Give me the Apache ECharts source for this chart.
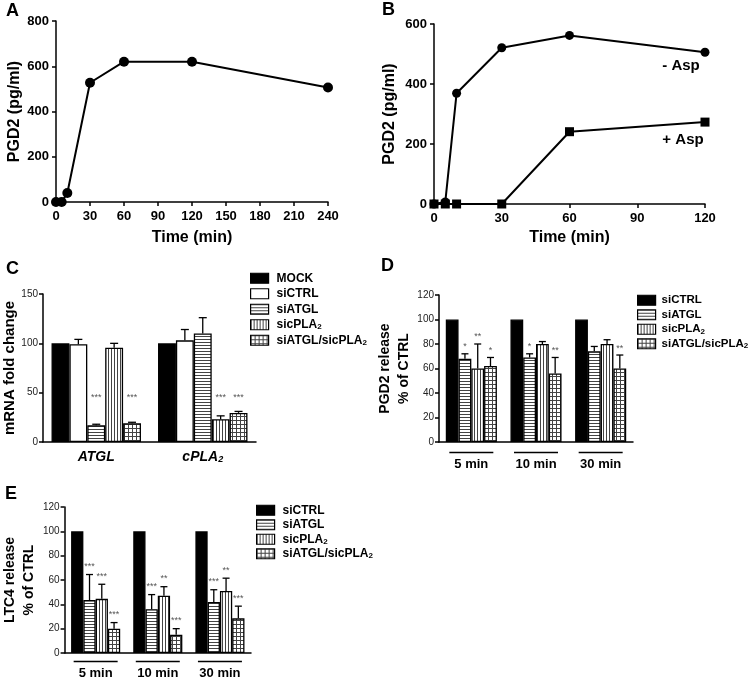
<!DOCTYPE html>
<html><head><meta charset="utf-8">
<script src="https://cdn.jsdelivr.net/npm/echarts@6/dist/echarts.min.js"></script>
<style>html,body{margin:0;padding:0;background:#fff}#c{width:752px;height:680px}</style>
</head><body><div id="c"></div>
<script>
// ---------- Panel A ----------
const timeA = [0, 5, 10, 30, 60, 120, 240];
const pgd2A = [0, 0, 40, 527, 620, 620, 506];
// ---------- Panel B ----------
const timeB = [0, 5, 10, 30, 60, 120];
const minusAsp = [0, 7, 369, 521, 562, 506];
const plusAsp = [0, 0, 0, 0, 241, 273];
// ---------- Panel C ----------
const genesC = ['ATGL', 'cPLA2'];
const groupsC = ['MOCK', 'siCTRL', 'siATGL', 'sicPLA2', 'siATGL/sicPLA2'];
const mockC = [100, 100];
const siCtrlC = [99, 103];
const siCtrlErrC = [104, 114];
const siAtglC = [17, 110];
const siAtglErrC = [18, 126];
const sicPla2C = [95.5, 23];
const sicPla2ErrC = [100, 26.5];
const comboC = [19, 29.5];
const comboErrC = [20, 31];
const starsAtglC = ['***', ''];
const starsPla2C = ['', '***'];
const starsComboC = ['***', '***'];
// ---------- Panel D ----------
const timesD = ['5 min', '10 min', '30 min'];
const groupsDE = ['siCTRL', 'siATGL', 'sicPLA2', 'siATGL/sicPLA2'];
const siCtrlD = [100, 100, 100];
const siAtglD = [68, 69, 74];
const siAtglErrD = [72, 72, 78];
const sicPla2D = [60, 80, 80];
const sicPla2ErrD = [80, 82, 83.5];
const comboD = [62, 56, 60];
const comboErrD = [69, 69, 71];
const starsAtglD = ['*', '*', ''];
const starsPla2D = ['**', '', ''];
const starsComboD = ['*', '**', '**'];
// ---------- Panel E ----------
const timesE = ['5 min', '10 min', '30 min'];
const siCtrlE = [100, 100, 100];
const siAtglE = [43.5, 36, 42];
const siAtglErrE = [64.5, 48, 52];
const sicPla2E = [44.5, 47, 51];
const sicPla2ErrE = [56.5, 54.5, 61.5];
const comboE = [20, 15, 28.5];
const comboErrE = [25, 20, 38.5];
const starsAtglE = ['***', '***', '***'];
const starsPla2E = ['***', '**', '**'];
const starsComboE = ['***', '***', '***'];

const FONT = '"Liberation Sans", Arial, sans-serif';

function pattern(kind) {
  const s = kind === 'grid' ? 4 : 3;
  const c = document.createElement('canvas');
  c.width = s; c.height = s;
  const g = c.getContext('2d');
  g.fillStyle = '#fff'; g.fillRect(0, 0, s, s);
  g.fillStyle = '#444';
  if (kind === 'h' || kind === 'grid') g.fillRect(0, 0, s, 1);
  if (kind === 'v' || kind === 'grid') g.fillRect(0, 0, 1, s);
  return { image: c, repeat: 'repeat' };
}
const fills = { black: '#000', white: '#fff', h: pattern('h'), v: pattern('v'), grid: pattern('grid') };

function barSeries(prefix, gi, groups, fillKeys, vals, errs, stars, starCfg, gapPct, cap) {
  const n = groups.length;
  const gap = parseFloat(gapPct) / 100;
  const out = [];
  groups.forEach((g, i) => {
    out.push({
      type: 'bar', name: prefix + ':' + g, xAxisIndex: gi, yAxisIndex: gi,
      data: vals[i], barGap: '0%', barCategoryGap: gapPct, silent: true,
      itemStyle: { color: fills[fillKeys[i]], borderColor: '#000', borderWidth: 1.3 }, z: 2
    });
  });
  groups.forEach((g, i) => {
    if (!errs[i] && !stars[i]) return;
    out.push({
      type: 'custom', name: prefix + ':' + g + ':err', xAxisIndex: gi, yAxisIndex: gi, z: 4, silent: true, clip: false,
      data: vals[i].map((v, k) => [k, errs[i] ? errs[i][k] : v, v]),
      encode: { x: 0, y: 1 },
      renderItem: (params, api) => {
        const k = params.dataIndex;
        const top = api.value(1), base = api.value(2);
        const band = api.size([1, 0])[0];
        const barW = band * (1 - gap) / n;
        const c0 = api.coord([k, base]);
        const c1 = api.coord([k, top]);
        const x = c0[0] + (i - (n - 1) / 2) * barW;
        const ch = [];
        if (top > base) {
          ch.push({ type: 'line', shape: { x1: x, y1: c0[1], x2: x, y2: c1[1] }, style: { stroke: '#000', lineWidth: 1.3 } });
          ch.push({ type: 'line', shape: { x1: x - cap / 2, y1: c1[1], x2: x + cap / 2, y2: c1[1] }, style: { stroke: '#000', lineWidth: 1.3 } });
        }
        const st = stars[i] ? stars[i][k] : '';
        if (st) {
          const sy = starCfg.fixed != null ? api.coord([k, starCfg.fixed])[1] : c1[1] - starCfg.off;
          ch.push({ type: 'text', style: { text: st, x: x, y: sy, align: 'center', verticalAlign: 'middle', fontSize: 9, fontFamily: FONT, fill: '#555' } });
        }
        return { type: 'group', children: ch };
      }
    });
  });
  return out;
}

const axisLineS = { lineStyle: { color: '#000', width: 1.5 } };
const tickS = { length: 4, lineStyle: { color: '#000', width: 1.5 } };
const boldTick = { fontSize: 13, fontWeight: 'bold', color: '#000', fontFamily: FONT };
const smallTick = { fontSize: 10, color: '#222', fontFamily: FONT };
const titleS = { fontSize: 16, fontWeight: 'bold', color: '#000', fontFamily: FONT };
const titleS2 = { fontSize: 14, fontWeight: 'bold', color: '#000', fontFamily: FONT, lineHeight: 19 };

const grids = [
  { left: 56, right: 424, top: 21, bottom: 478 },   // A
  { left: 434, right: 47, top: 24, bottom: 476 },   // B
  { left: 43, right: 496, top: 294, bottom: 238 },  // C
  { left: 439, right: 119, top: 295, bottom: 238 }, // D
  { left: 55, right: 501, top: 507, bottom: 27 }    // E
];

const subFmt = s => s.replace('PLA2', 'PLA{sub|2}');
const richSub = { sub: { fontSize: 8, fontWeight: 'bold', fontFamily: FONT, color: '#000', lineHeight: 8, verticalAlign: 'bottom' } };
const groupLabel = margin => ({ margin: margin, interval: 0, hideOverlap: false, formatter: v => '{ln|}\n{t|' + v + '}', rich: {
  ln: { width: 44, height: 1.5, backgroundColor: '#000', lineHeight: 3 },
  t: { fontSize: 13, fontWeight: 'bold', color: '#000', fontFamily: FONT, lineHeight: 20 } } });

const xAxes = [
  { gridIndex: 0, type: 'value', min: 0, max: 240, interval: 30, name: 'Time (min)', nameLocation: 'middle', nameGap: 28, nameTextStyle: titleS,
    axisLine: axisLineS, axisTick: tickS, axisLabel: Object.assign({ margin: 8 }, boldTick), splitLine: { show: false } },
  { gridIndex: 1, type: 'value', min: 0, max: 120, interval: 30, name: 'Time (min)', nameLocation: 'middle', nameGap: 26, nameTextStyle: titleS,
    axisLine: axisLineS, axisTick: tickS, axisLabel: Object.assign({ margin: 8 }, boldTick), splitLine: { show: false } },
  { gridIndex: 2, type: 'category', data: genesC, axisLine: axisLineS, axisTick: Object.assign({ alignWithLabel: true }, tickS),
    axisLabel: { margin: 8, interval: 0, hideOverlap: false, fontSize: 14, fontWeight: 'bold', fontStyle: 'italic', color: '#000', fontFamily: FONT, formatter: subFmt,
      rich: { sub: { fontSize: 9, fontWeight: 'bold', fontStyle: 'italic', fontFamily: FONT, color: '#000', verticalAlign: 'bottom', lineHeight: 9 } } } },
  { gridIndex: 3, type: 'category', data: timesD, axisLine: axisLineS, axisTick: Object.assign({ alignWithLabel: true }, tickS), axisLabel: groupLabel(9) },
  { gridIndex: 4, type: 'category', data: timesE, axisLine: axisLineS, axisTick: Object.assign({ alignWithLabel: true }, tickS), axisLabel: groupLabel(7) }
];

const yBase = (gi, min, max, iv, name, gap, ts, lab) => ({
  gridIndex: gi, type: 'value', min: min, max: max, interval: iv, name: name, nameLocation: 'middle', nameGap: gap, nameTextStyle: ts,
  axisLine: { show: true, lineStyle: axisLineS.lineStyle }, axisTick: { show: true, length: 4, lineStyle: tickS.lineStyle },
  axisLabel: lab, splitLine: { show: false }
});
const yAxes = [
  yBase(0, 0, 800, 200, 'PGD2 (pg/ml)', 33, titleS, Object.assign({ margin: 7 }, boldTick)),
  yBase(1, 0, 600, 200, 'PGD2 (pg/ml)', 36, titleS, Object.assign({ margin: 7 }, boldTick)),
  yBase(2, 0, 150, 50, 'mRNA fold change', 22, Object.assign({}, titleS, { fontSize: 15 }), Object.assign({ margin: 5 }, smallTick)),
  yBase(3, 0, 120, 20, 'PGD2 release\n% of CTRL', 20, titleS2, Object.assign({ margin: 5 }, smallTick)),
  yBase(4, 0, 120, 20, 'LTC4 release\n% of CTRL', 22, titleS2, Object.assign({ margin: 5 }, smallTick))
];

const lineStyleK = { color: '#000', width: 2 };
const endLabel = (txt, off) => ({ show: true, formatter: txt, position: 'bottom', offset: off, fontSize: 15, fontWeight: 'bold', color: '#000', fontFamily: FONT });
const series = [
  { type: 'line', name: 'A', xAxisIndex: 0, yAxisIndex: 0, data: timeA.map((t, i) => [t, pgd2A[i]]),
    symbol: 'circle', symbolSize: 10, lineStyle: lineStyleK, itemStyle: { color: '#000' }, silent: true },
  { type: 'line', name: '- Asp', xAxisIndex: 1, yAxisIndex: 1,
    data: timeB.map((t, i) => i === timeB.length - 1 ? { value: [t, minusAsp[i]], label: endLabel('- Asp', [-24, -3]) } : [t, minusAsp[i]]),
    symbol: 'circle', symbolSize: 9, lineStyle: lineStyleK, itemStyle: { color: '#000' }, silent: true, z: 3 },
  { type: 'line', name: '+ Asp', xAxisIndex: 1, yAxisIndex: 1,
    data: timeB.map((t, i) => i === timeB.length - 1 ? { value: [t, plusAsp[i]], label: endLabel('+ Asp', [-22, 1]) } : [t, plusAsp[i]]),
    symbol: 'rect', symbolSize: 9, lineStyle: lineStyleK, itemStyle: { color: '#000' }, silent: true, z: 2 }
].concat(
  barSeries('C', 2, groupsC, ['black', 'white', 'h', 'v', 'grid'],
    [mockC, siCtrlC, siAtglC, sicPla2C, comboC],
    [null, siCtrlErrC, siAtglErrC, sicPla2ErrC, comboErrC],
    [null, null, starsAtglC, starsPla2C, starsComboC], { fixed: 45 }, '16%', 8),
  barSeries('D', 3, groupsDE, ['black', 'h', 'v', 'grid'],
    [siCtrlD, siAtglD, sicPla2D, comboD],
    [null, siAtglErrD, sicPla2ErrD, comboErrD],
    [null, starsAtglD, starsPla2D, starsComboD], { off: 7 }, '21%', 7),
  barSeries('E', 4, groupsDE, ['black', 'h', 'v', 'grid'],
    [siCtrlE, siAtglE, sicPla2E, comboE],
    [null, siAtglErrE, sicPla2ErrE, comboErrE],
    [null, starsAtglE, starsPla2E, starsComboE], { off: 8 }, '21%', 7)
);

function legendFor(prefix, groups, left, top, gap, fs, pad) {
  return {
    data: groups.map(g => prefix + ':' + g), orient: 'vertical', left: left, top: top,
    itemWidth: 18, itemHeight: 10, itemGap: gap, icon: 'rect', selectedMode: false,
    itemStyle: { borderColor: '#000', borderWidth: 1.2 },
    formatter: name => subFmt(name.split(':')[1]),
    textStyle: { fontSize: fs, fontWeight: 'bold', color: '#000', fontFamily: FONT, lineHeight: 12.5, padding: [0, 0, 0, pad], rich: richSub }
  };
}

const letter = (t, x, y) => ({ type: 'text', left: x, top: y, style: { text: t, font: 'bold 18px ' + FONT, fill: '#000' } });

const chart = echarts.init(document.getElementById('c'), null, { renderer: 'canvas' });
chart.setOption({
  animation: false,
  backgroundColor: '#fff',
  grid: grids,
  xAxis: xAxes,
  yAxis: yAxes,
  legend: [
    legendFor('C', groupsC, 245, 267, 3, 12, 3),
    legendFor('D', groupsDE, 632, 289, 2, 11.5, 1),
    legendFor('E', groupsDE, 251, 499, 2, 12, 3)
  ],
  graphic: [letter('A', 6, 2), letter('B', 382, 1), letter('C', 6, 260), letter('D', 381, 257), letter('E', 5, 485)],
  series: series
});
</script>
</body></html>
